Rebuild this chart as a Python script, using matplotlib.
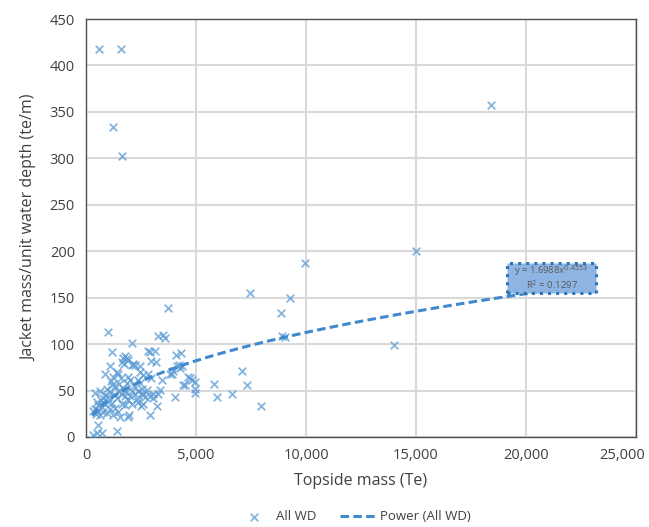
import numpy as np
import matplotlib
matplotlib.use('Agg')
import matplotlib.pyplot as plt
from matplotlib.patches import Rectangle
from matplotlib.ticker import FuncFormatter, MultipleLocator

plt.rcParams['font.family'] = ['Open Sans', 'DejaVu Sans']

# topside mass (Te) and jacket mass per unit water depth (te/m)
topside = [600, 1590, 1240, 1620, 18400, 15000, 9950, 9270, 7450, 8860, 8890, 9050,
           14000, 3740, 1010, 2110, 3290, 3520, 3600,
           7080, 5820, 7300, 5970, 6650, 7940,
           1190, 2830, 2910, 3120, 4090, 4300, 1700, 1770, 1850, 1620, 1740, 1920,
           2940, 3170, 2150, 2230, 2080, 2450, 4120, 4270, 4240, 4350, 850, 1090,
           1420, 1470, 2940, 3440, 3820, 3970, 3890, 4650, 4730, 4800, 4950, 4950,
           4950, 4420, 4500, 4050, 3230, 2890,
           1140, 1170, 1920, 2000, 2380, 2450, 2450, 2600, 2830,
           2530, 2760, 2600, 3060, 3290, 3360,
           410, 640, 860, 1010, 790, 1470, 1620, 1770, 1390, 2080, 2230, 2380, 2530,
           2680, 2910, 3060, 1920, 2080, 1770, 1620, 2380, 2610,
           560, 710, 490, 790, 640, 940, 1090, 1320, 1470, 1240, 1920, 1970, 1545,
           560, 490, 710, 1390, 330,
           300, 400, 450, 520, 700, 880, 1000, 1200, 1300, 1100, 950, 1300, 1500,
           1600, 1250, 1700, 1850, 2200, 1800, 2000, 2300, 2500]
jacket = [418, 418, 334, 302, 357, 200, 187, 150, 155, 133, 109, 108,
          99, 139, 113, 101, 109, 110, 107,
          71, 57, 56, 43, 46, 33,
          91, 93, 91, 93, 88, 90, 85, 87, 85, 81, 79, 83,
          82, 81, 79, 77, 77, 76, 76, 74, 78, 76, 68, 76,
          70, 68, 63, 61, 68, 71, 68, 65, 63, 61, 59, 52,
          47, 56, 56, 43, 33, 24,
          60, 56, 65, 61, 61, 58, 70, 67, 68,
          52, 51, 45, 42, 46, 51,
          47, 49, 45, 43, 42, 49, 46, 44, 42, 49, 46, 50, 47,
          43, 44, 46, 40, 36, 34, 36, 38, 36,
          34, 32, 29, 27, 24, 26, 30, 31, 27, 24, 22, 24, 22,
          13, 4, 4, 6, 2,
          28, 30, 25, 38, 40, 36, 38, 37, 45, 48, 52, 55, 57,
          63, 65, 53, 58, 55, 48, 44, 41, 33]

# Excel power trendline
coef_a = 1.6988
coef_b = 0.4553
r2 = 0.1297
trend_end = 20500

fig = plt.figure(figsize=(6.49, 5.27), dpi=100)
ax = fig.add_axes([0.1325, 0.1708, 0.8475, 0.7931])

ax.scatter(topside, jacket, marker='x', s=30, linewidths=1.3,
           color='#5B9BD5', alpha=0.75, zorder=3, label='All WD')

xt = np.linspace(min(topside), trend_end, 200)
ax.plot(xt, coef_a * xt ** coef_b, color='#4189CF', lw=2.2,
        dashes=(2.8, 1.4), zorder=4, label='Power (All WD)')

# equation box
ax.add_patch(Rectangle((19140, 155.5), 4040, 32, facecolor='#8DB4E2',
                       edgecolor='#2E75B6', ls=':', lw=2.2, zorder=5))
ax.text(21160, 179.5, 'y = %.4fx$^{%.4f}$' % (coef_a, coef_b), ha='center',
        va='center', fontsize=6.8, color='#5a5a5a', zorder=6)
ax.text(21160, 163.5, 'R$^{2}$ = %.4f' % r2, ha='center', va='center',
        fontsize=6.8, color='#5a5a5a', zorder=6)

ax.set_xlim(0, 25000)
ax.set_ylim(0, 450)
ax.xaxis.set_major_locator(MultipleLocator(5000))
ax.yaxis.set_major_locator(MultipleLocator(50))
# the last x label is drawn separately, pulled inside the figure
ax.xaxis.set_major_formatter(
    FuncFormatter(lambda v, p: '' if v >= 25000 else '{:,.0f}'.format(v)))
ax.annotate('25,000', xy=(25000, 0), xycoords=('data', 'axes fraction'),
            xytext=(-10, -8), textcoords='offset points', ha='center', va='top',
            fontsize=10.5, color='#404040')
ax.grid(True, color='#d9d9d9', lw=1.5, zorder=0)
ax.set_axisbelow(True)
for s in ax.spines.values():
    s.set_color('#505050')
    s.set_linewidth(1.0)
ax.tick_params(length=0, labelsize=10.5, labelcolor='#404040')
ax.tick_params(axis='x', pad=8)
ax.tick_params(axis='y', pad=8)

ax.set_xlabel('Topside mass (Te)', fontsize=11.5, color='#404040', labelpad=7)
ax.set_ylabel('Jacket mass/unit water depth (te/m)', fontsize=11.5,
              color='#404040', labelpad=9)

fig.legend(loc='center', bbox_to_anchor=(0.545, 0.019), ncol=2, frameon=False,
           fontsize=9.5, handlelength=2.6, columnspacing=1.8, handletextpad=0.4,
           labelcolor='#404040')

fig.savefig('out.png', dpi=100)
